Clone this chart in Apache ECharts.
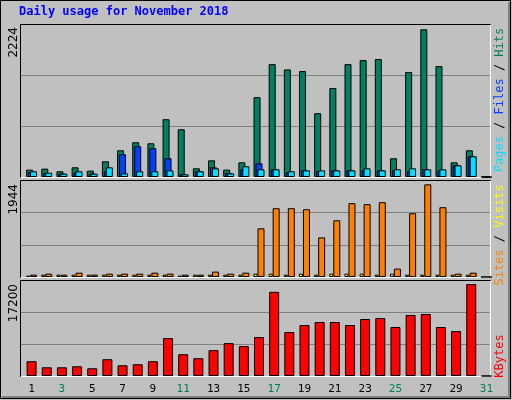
<!DOCTYPE html>
<html><head><meta charset="utf-8">
<script src="https://cdn.jsdelivr.net/npm/echarts@6/dist/echarts.min.js"></script>
<style>html,body{margin:0;padding:0;background:#c0c0c0}#c{width:512px;height:400px}</style>
</head><body><div id="c"></div>
<script>
const days = ['1','2','3','4','5','6','7','8','9','10','11','12','13','14','15','16','17','18','19','20','21','22','23','24','25','26','27','28','29','30','31'];
const weekend = ['3','4','10','11','17','18','24','25','31'];
const hits  = [111,126,86,146,96,236,402,523,508,870,719,131,251,111,221,1202,1700,1620,1595,961,1339,1700,1760,1776,282,1580,2224,1670,221,402,0];
const files = [75,60,50,70,50,86,342,463,433,282,40,86,146,60,116,206,116,70,100,90,100,100,100,100,100,86,116,100,176,312,0];
const pages = [86,65,50,86,50,146,55,86,86,100,40,86,131,55,161,116,116,86,100,100,100,100,131,100,116,131,116,116,176,312,0];
const sites = [28,49,49,49,49,49,49,49,49,49,28,49,49,49,49,70,70,49,70,49,70,70,70,49,70,49,49,49,49,49,0];
const visits= [49,70,49,91,49,70,70,70,91,70,49,49,113,70,91,1021,1443,1443,1422,831,1190,1549,1528,1570,176,1338,1944,1464,70,91,0];
const kbytes= [2762,1632,1632,1820,1444,3139,2009,2197,2762,7093,4080,3327,4833,6151,5587,7281,15755,8223,9541,10106,10106,9541,10671,10859,9164,11424,11612,9164,8411,17200,0];

const ch = echarts.init(document.getElementById('c'), null, {renderer:'canvas'});
const FONT = 'DejaVu Sans Mono';
const bs = c => ({color:c, borderColor:'#000', borderWidth:1});
function xa(i, show){return {type:'category', data:days, gridIndex:i, axisLine:{show:false}, axisTick:{show:false},
  axisLabel:{show:show, fontFamily:FONT, fontSize:11, margin:8, color:(v)=>weekend.includes(v)?'#008050':'#000'}};}
function ya(i,max){return {type:'value', gridIndex:i, min:0, max:max, axisLine:{show:false}, axisTick:{show:false}, axisLabel:{show:false}, splitLine:{show:false}};}
const panels = [[24,153],[180,97],[280,96]];
const gfx = [];
gfx.push({type:'rect', shape:{x:0.5,y:0.5,width:510,height:398}, style:{fill:'#c0c0c0', stroke:'#000', lineWidth:1}, z:-10});
gfx.push({type:'polyline', shape:{points:[[509,2],[509,397],[2,397]]}, style:{fill:null, stroke:'#808080', lineWidth:2}, z:-9});
panels.forEach(([y,h])=>{
  gfx.push({type:'rect', shape:{x:20.5,y:y+0.5,width:470,height:h}, style:{fill:'#c0c0c0', stroke:'#000', lineWidth:1}, z:-8});
  gfx.push({type:'polyline', shape:{points:[[21,y+h+0.5],[490.5,y+h+0.5],[490.5,y+1]]}, style:{fill:null, stroke:'#fff', lineWidth:1}, z:-7});
  [1,2].forEach(k=>{const gy=Math.round(y+h*k/3)+0.5;
    gfx.push({type:'line', shape:{x1:21,y1:gy,x2:490,y2:gy}, style:{stroke:'#808080', lineWidth:1}, z:-6});});
});
gfx.push({type:'text', left:19, top:6, style:{text:'Daily usage for November 2018', fill:'#0000ff', font:'bold 12px "DejaVu Sans Mono"'}});
function ylab(t, y){gfx.push({type:'text', x:8, y:y, rotation:Math.PI/2, style:{text:t, fill:'#000', font:'12px "DejaVu Sans"', align:'right', verticalAlign:'top'}});}
ylab('2224',27); ylab('1944',184); ylab('17200',284);
function leg(parts, y){gfx.push({type:'text', x:494, y:y, rotation:Math.PI/2, style:{text:parts.map((p,i)=>'{s'+i+'|'+p[0]+'}').join(''), rich:Object.fromEntries(parts.map((p,i)=>['s'+i,{fill:p[1], font:'12px "DejaVu Sans Mono"'}])), align:'center', verticalAlign:'top'}});}
leg([['Pages','#00e0ff'],[' / ','#000'],['Files','#0040ff'],[' / ','#000'],['Hits','#008060']], 100);
leg([['Sites','#ff8000'],[' / ','#000'],['Visits','#ffff00']], 235);
leg([['KBytes','#ff0000']], 356);

ch.setOption({
  animation:false,
  grid:[{left:24,width:470,top:24,height:153},{left:24,width:470,top:180,height:97},{left:24,width:470,top:280,height:96}],
  xAxis:[xa(0,false),xa(1,false),xa(2,true)],
  yAxis:[ya(0,2304),ya(1,2035),ya(2,17970)],
  graphic:gfx,
  series:[
    {type:'bar', xAxisIndex:0,yAxisIndex:0, data:hits, barWidth:7, barGap:'-72%', itemStyle:bs('#008060')},
    {type:'bar', xAxisIndex:0,yAxisIndex:0, data:files, barWidth:7, barGap:'-72%', itemStyle:bs('#0040ff')},
    {type:'bar', xAxisIndex:0,yAxisIndex:0, data:pages, barWidth:7, barGap:'-72%', itemStyle:bs('#00e0ff')},
    {type:'bar', xAxisIndex:1,yAxisIndex:1, data:sites, barWidth:4, barGap:'0%', itemStyle:bs('#ffff00')},
    {type:'bar', xAxisIndex:1,yAxisIndex:1, data:visits, barWidth:7, barGap:'0%', itemStyle:bs('#ff8000')},
    {type:'bar', xAxisIndex:2,yAxisIndex:2, data:kbytes, barWidth:10, itemStyle:bs('#ff0000')}
  ]
});
</script></body></html>
